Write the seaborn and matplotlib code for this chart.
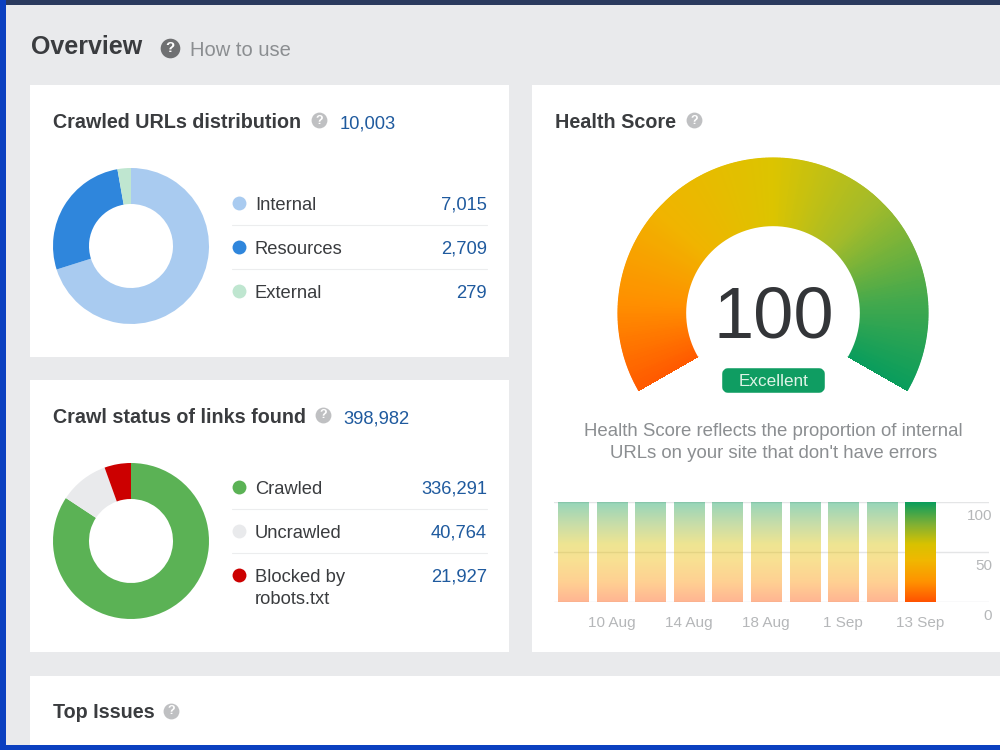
import numpy as np
import matplotlib
matplotlib.use("Agg")
import matplotlib.pyplot as plt
from matplotlib.colors import LinearSegmentedColormap
from matplotlib.patches import FancyBboxPatch, Rectangle
import pandas as pd
import seaborn as sns

# Dashboard figures
url_labels = ["Internal", "Resources", "External"]
url_values = [7015, 2709, 279]
url_total = 10003
crawl_labels = ["Crawled", "Uncrawled", "Blocked by\nrobots.txt"]
crawl_values = [336291, 40764, 21927]
crawl_total = 398982
health_score = 100
history_dates = ["8 Aug", "10 Aug", "12 Aug", "14 Aug", "16 Aug",
                 "18 Aug", "20 Aug", "1 Sep", "7 Sep", "13 Sep"]
history_scores = [100, 100, 100, 100, 100, 100, 100, 100, 100, 100]
history_ticks = ["10 Aug", "14 Aug", "18 Aug", "1 Sep", "13 Sep"]
score_ticks = [0, 50, 100]

url_colors = ["#a9cbf0", "#2f86dc", "#bfe6d0"]
crawl_colors = ["#5bb255", "#e9eaec", "#cc0000"]
score_stops = [(0.0, "#ff5a00"), (0.14, "#ff8f00"), (0.3, "#f0b400"), (0.5, "#dcc400"),
               (0.68, "#a3bb2a"), (0.85, "#45a94c"), (1.0, "#0a9d5c")]
score_cmap = LinearSegmentedColormap.from_list("score", score_stops)
bar_stops = [(0.0, "#ff5200"), (0.2, "#ff9200"), (0.42, "#f0b800"), (0.58, "#d8c200"),
             (0.78, "#7fb035"), (1.0, "#0a9d5c")]
bar_cmap = LinearSegmentedColormap.from_list("bar", bar_stops)

TEXT = "#3a3c3f"
BLUE = "#1f5a9e"
GREY = "#8b8e91"
W, H = 1000, 750

sns.set_theme(style="white")
plt.rcParams["font.family"] = ["Liberation Sans", "DejaVu Sans"]

fig = plt.figure(figsize=(10, 7.5), dpi=100, facecolor="#e9eaec")


def axes_px(x0, y0, x1, y1, **kw):
    """Axes placed by its pixel box, measured from the top-left corner."""
    return fig.add_axes([x0 / W, 1 - y1 / H, (x1 - x0) / W, (y1 - y0) / H], **kw)


# Page layer: pixel-addressed canvas for cards, frame and labels
page = axes_px(0, 0, W, H)
page.set_xlim(0, W)
page.set_ylim(H, 0)
page.axis("off")

for x, y, w, h, c in [(0, 0, W, 5, "#2a3a5e"), (0, 0, 6, H, "#0b40c0"), (0, 745, W, 5, "#0b40c0"),
                      (30, 85, 479, 272, "white"), (30, 380, 479, 272, "white"),
                      (532, 85, 468, 567, "white"), (30, 676, 970, 69, "white")]:
    page.add_patch(Rectangle((x, y), w, h, fc=c, ec="none"))


def help_icon(x, y, color="#bfc0c2", size=130, fs=9):
    page.scatter([x], [y], s=size, color=color, linewidths=0, zorder=3)
    page.text(x, y + 0.5, "?", color="white", fontsize=fs, fontweight="bold",
              ha="center", va="center", zorder=4)


def card_title(x, y, text):
    page.text(x, y, text, color=TEXT, fontsize=14.2, fontweight="bold", va="center")


# Header
page.text(31, 47, "Overview", color=TEXT, fontsize=18, fontweight="bold", va="center")
help_icon(170, 48, color="#6f7072", size=200, fs=11)
page.text(189.5, 50, "How to use", color=GREY, fontsize=14.5, va="center")

# Card titles
card_title(53, 122.5, "Crawled URLs distribution")
help_icon(319, 120)
page.text(340, 128.5, f"{url_total:,}", color=BLUE, fontsize=13.2, va="baseline")
card_title(53, 417.5, "Crawl status of links found")
help_icon(323, 415)
page.text(343, 423.5, f"{crawl_total:,}", color=BLUE, fontsize=13.2, va="baseline")
card_title(555, 122, "Health Score")
help_icon(694, 120)
card_title(53, 713, "Top Issues")
help_icon(171, 711)


def donut(box, values, colors):
    ax = axes_px(*box)
    ax.pie(values, colors=colors, startangle=90, counterclock=False, radius=1,
           wedgeprops={"width": 36 / 78, "linewidth": 0})
    ax.set_xlim(-1, 1)
    ax.set_ylim(-1, 1)
    ax.patch.set_alpha(0)


def legend_rows(top, labels, values, colors):
    for i, (lab, val, col) in enumerate(zip(labels, values, colors)):
        y = top + 44 * i
        base = y + 6.5
        page.scatter([239], [y], s=100, color=col, linewidths=0, zorder=3)
        first, *rest = lab.split("\n")
        page.text(255, base, first, color=TEXT, fontsize=13.2, va="baseline")
        for j, extra in enumerate(rest):
            page.text(255, base + 23 * (j + 1), extra, color=TEXT, fontsize=13.2, va="baseline")
        page.text(487, base, f"{val:,}", color=BLUE, fontsize=13.2, va="baseline", ha="right")
        if i < len(labels) - 1:
            page.plot([232, 487], [y + 22, y + 22], color="#ecedee", lw=0.8)


donut((53, 168, 209, 324), url_values, url_colors)
legend_rows(203, url_labels, url_values, url_colors)
donut((53, 463, 209, 619), crawl_values, crawl_colors)
legend_rows(487, crawl_labels, crawl_values, crawl_colors)

# Health gauge: a 240-degree sweep, filled up to the score
gauge = axes_px(617, 157, 929, 469, projection="polar")
gauge.patch.set_alpha(0)
start, sweep = np.deg2rad(210), np.deg2rad(240)
fill = health_score / 100
theta = start - np.linspace(0, sweep * fill, 481)
radius = np.array([86, 156])
shade = np.linspace(0, fill, 480)[None, :]
gauge.pcolormesh(theta, radius, shade, cmap=score_cmap, vmin=0, vmax=1,
                 shading="flat", rasterized=True, linewidth=0)
# Thin white rims keep the curved edges of the mesh smooth
gauge.plot(theta, np.full_like(theta, 86), color="white", lw=1.2)
gauge.plot(theta, np.full_like(theta, 156.5), color="white", lw=1.2, clip_on=False)
gauge.set_ylim(0, 156)
gauge.axis("off")

page.text(774, 319, str(health_score), color="#333538", fontsize=52, ha="center", va="center")
page.add_patch(FancyBboxPatch((725, 371), 97, 19, boxstyle="round,pad=0,rounding_size=3",
                              mutation_aspect=1, fc="#0f9d62", ec="#0f9d62", lw=4, joinstyle="round"))
page.text(773.5, 381.5, "Excellent", color="#dff4e7", fontsize=12.3, ha="center", va="center")
page.text(773.5, 431, "Health Score reflects the proportion of internal", color=GREY,
          fontsize=13.4, ha="center", va="center")
page.text(773.5, 454, "URLs on your site that don't have errors", color=GREY,
          fontsize=13.4, ha="center", va="center")

# Score history: bars filled with the score gradient, older runs faded
hist = axes_px(554, 502, 989, 602)
hist.patch.set_alpha(0)
frame = pd.DataFrame({"date": history_dates, "score": history_scores})
sns.barplot(data=frame, x="date", y="score", order=history_dates, width=0.78,
            color="white", linewidth=0, saturation=1, ax=hist, zorder=1)
hist.set_axisbelow(True)
hist.yaxis.grid(True, color="#e4e5e6", lw=1)
hist.xaxis.grid(False)

last = len(history_dates) - 1
ramp = np.linspace(1, 0, 256)[:, None]
for i, bar in enumerate(hist.patches):
    bar.set_facecolor("none")
    img = hist.imshow(ramp, cmap=bar_cmap, vmin=0, vmax=1, aspect="auto", zorder=2,
                      extent=(-0.5, last + 0.5, 0, 100), alpha=1 if i == last else 0.43,
                      interpolation="bilinear")
    img.set_clip_path(bar)

hist.set_xlim(-0.5, 10.78)
hist.set_ylim(0, 100)
hist.set_yticks(score_ticks)
hist.set_yticklabels([])
hist.set_xticks([history_dates.index(d) for d in history_ticks])
hist.set_xticklabels(history_ticks, color="#b5b7b9", fontsize=11)
hist.tick_params(axis="both", length=0)
hist.tick_params(axis="x", pad=10)
hist.set_xlabel("")
hist.set_ylabel("")
sns.despine(ax=hist, left=True, bottom=True, right=True, top=True)
for v in score_ticks:
    hist.annotate(str(v), xy=(1, v), xycoords=hist.get_yaxis_transform(), xytext=(3, -14),
                  textcoords="offset pixels", ha="right", va="center",
                  color="#b5b7b9", fontsize=11)

fig.savefig("out.png", dpi=100, facecolor=fig.get_facecolor())
